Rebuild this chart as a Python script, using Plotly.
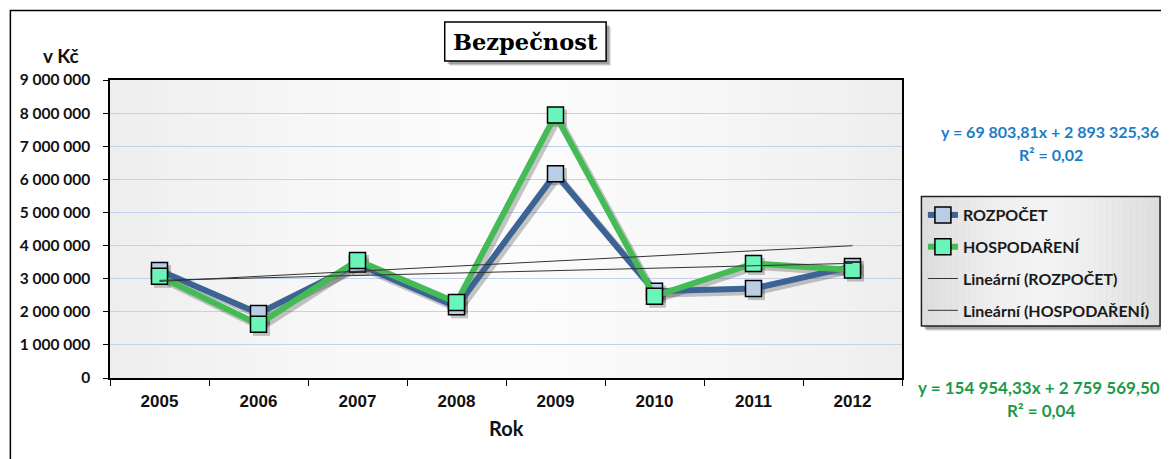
import numpy as np
import plotly.graph_objects as go

# ---------------- data ----------------
years = ["2005", "2006", "2007", "2008", "2009", "2010", "2011", "2012"]
rozpocet = [3250000, 1950000, 3440000, 2150000, 6170000, 2620000, 2700000, 3370000]
hospodareni = [3070000, 1620000, 3550000, 2280000, 7940000, 2470000, 3460000, 3260000]
series_names = ["ROZPOČET", "HOSPODAŘENÍ"]
trend_names = ["Lineární (ROZPOČET)", "Lineární (HOSPODAŘENÍ)"]
eq_rozpocet = ["y = 69 803,81x + 2 893 325,36", "R² = 0,02"]
eq_hospodareni = ["y = 154 954,33x + 2 759 569,50", "R² = 0,04"]
title_text = "Bezpečnost"
y_title = "v Kč"
x_title = "Rok"
y_max = 9000000
y_step = 1000000

# ---------------- geometry helpers ----------------
# the page body has an 8px margin, so the figure is drawn offset by 8px
OFF = 8
W_FIG, H_FIG = 1169 - OFF, 459 - OFF
L, R, T, B = 107, 902, 80, 378          # plot area in screen pixels
W, H = R - L, B - T


def px(x):
    return (x - L) / W


def py(y):
    return (B - y) / H


CAL = "Lato"
BLUE, BLUE_FILL = "#3b6495", "#b9cde5"
GREEN, GREEN_FILL = "#45bb55", "#6af5bb"

fig = go.Figure()

# base subplot: axes only
fig.add_trace(go.Scatter(x=years, y=rozpocet, mode="none", showlegend=False,
                         hoverinfo="skip", xaxis="x", yaxis="y"))

# shadows (x2/y2, shifted a few pixels)
for vals in (rozpocet, hospodareni):
    fig.add_trace(go.Scatter(
        x=years, y=vals, mode="lines+markers", showlegend=False, hoverinfo="skip",
        line=dict(color="rgba(0,0,0,0.22)", width=7),
        marker=dict(symbol="square", size=17, color="rgba(0,0,0,0.22)",
                    line=dict(width=0)),
        xaxis="x2", yaxis="y2"))

# main series (x3/y3)
fig.add_trace(go.Scatter(
    x=years, y=rozpocet, name=series_names[0], mode="lines+markers",
    legendgroup="a",
    line=dict(color=BLUE, width=6),
    marker=dict(symbol="square", size=16, color=BLUE_FILL,
                line=dict(color="black", width=1.5)),
    xaxis="x3", yaxis="y3"))
fig.add_trace(go.Scatter(
    x=years, y=hospodareni, name=series_names[1], mode="lines+markers",
    legendgroup="b",
    line=dict(color=GREEN, width=6),
    marker=dict(symbol="square", size=16, color=GREEN_FILL,
                line=dict(color="black", width=1.5)),
    xaxis="x3", yaxis="y3"))

# linear trend lines computed from the data
xi = np.arange(1, len(years) + 1)
for vals, nm, grp in ((rozpocet, trend_names[0], "c"), (hospodareni, trend_names[1], "d")):
    k, q = np.polyfit(xi, np.array(vals, dtype=float), 1)
    fig.add_trace(go.Scatter(
        x=years, y=k * xi + q, name=nm, mode="lines", legendgroup=grp,
        line=dict(color="#333333", width=1),
        xaxis="x3", yaxis="y3"))

dx = 3 / (W / len(years))
dy = 3 * y_max / H
cat_range = [-0.5, len(years) - 0.5]

fig.update_layout(
    width=W_FIG, height=H_FIG,
    margin=dict(l=L - OFF, r=1169 - R, t=T - OFF, b=459 - B),
    paper_bgcolor="white", plot_bgcolor="white",
    separators=", ",
    showlegend=True,
    legend=dict(x=px(923), y=py(198), xanchor="left", yanchor="top",
                bgcolor="rgba(0,0,0,0)", borderwidth=0,
                traceorder="grouped", tracegroupgap=8,
                font=dict(family=CAL, size=16, color="#1a1a1a", weight="bold"),
                itemwidth=30),
    xaxis=dict(type="category", categoryarray=years, range=cat_range,
               showline=True, linecolor="black", linewidth=1.5, mirror=True,
               ticks="outside", ticklen=6, tickcolor="black", tickwidth=1,
               tickson="boundaries", showgrid=False,
               ticklabelstandoff=7,
               tickfont=dict(family="Liberation Sans", size=17, color="#111", weight="bold")),
    yaxis=dict(range=[0, y_max], dtick=y_step, tickformat=",d",
               showline=True, linecolor="black", linewidth=1.5, mirror=True,
               ticks="outside", ticklen=5, tickcolor="black", tickwidth=1,
               showgrid=True, gridcolor="#c3d1ee", gridwidth=1, zeroline=False,
               ticklabelstandoff=10,
               tickfont=dict(family=CAL, size=15.5, color="#111", weight="bold")),
    xaxis2=dict(type="category", categoryarray=years, overlaying="x", visible=False,
                range=[cat_range[0] - dx, cat_range[1] - dx]),
    yaxis2=dict(overlaying="y", visible=False, range=[dy, y_max + dy]),
    xaxis3=dict(type="category", categoryarray=years, overlaying="x", visible=False,
                range=cat_range),
    yaxis3=dict(overlaying="y", visible=False, range=[0, y_max]),
)

shapes = []
# plot-area horizontal gradient (grey edges, white centre)
n = 60
for i in range(n):
    t = (i + 0.5) / n
    c = int(round(252 - 14 * abs(2 * t - 1) ** 1.3))
    shapes.append(dict(type="rect", xref="paper", yref="paper",
                       x0=i / n, x1=(i + 1) / n + 0.001, y0=0, y1=1,
                       fillcolor=f"rgb({c},{c},{c})", line=dict(width=0), layer="below"))

# outer chart border
shapes.append(dict(type="rect", xref="paper", yref="paper",
                   x0=px(7), x1=px(1190), y0=py(480), y1=py(10.5),
                   line=dict(color="black", width=1.5), fillcolor="rgba(0,0,0,0)",
                   layer="below"))

# legend box: shadow + gradient + border
lx0, lx1, ly0, ly1 = 921.5, 1161, 196.5, 326
for off, a in ((5, 0.10), (4, 0.14), (3, 0.18)):
    shapes.append(dict(type="rect", xref="paper", yref="paper",
                       x0=px(lx0 + off), x1=px(lx1 + off), y0=py(ly1 + off), y1=py(ly0 + off),
                       fillcolor=f"rgba(0,0,0,{a})", line=dict(width=0), layer="below"))
m = 40
for i in range(m):
    t = (i + 0.5) / m
    c = int(round(243 - 22 * abs(2 * t - 1) ** 1.5))
    shapes.append(dict(type="rect", xref="paper", yref="paper",
                       x0=px(lx0 + (lx1 - lx0) * i / m), x1=px(lx0 + (lx1 - lx0) * (i + 1) / m + 0.5),
                       y0=py(ly1), y1=py(ly0),
                       fillcolor=f"rgb({c},{c},{c})", line=dict(width=0), layer="below"))
shapes.append(dict(type="rect", xref="paper", yref="paper",
                   x0=px(lx0), x1=px(lx1), y0=py(ly1), y1=py(ly0),
                   line=dict(color="#222", width=1.5), fillcolor="rgba(0,0,0,0)", layer="below"))

# title box: shadow + box
tx0, tx1, ty0, ty1 = 443, 605, 22, 61
for off, a in ((5, 0.10), (4, 0.14), (3, 0.18)):
    shapes.append(dict(type="rect", xref="paper", yref="paper",
                       x0=px(tx0 + off), x1=px(tx1 + off), y0=py(ty1 + off), y1=py(ty0 + off),
                       fillcolor=f"rgba(0,0,0,{a})", line=dict(width=0), layer="below"))
shapes.append(dict(type="rect", xref="paper", yref="paper",
                   x0=px(tx0), x1=px(tx1), y0=py(ty1), y1=py(ty0),
                   line=dict(color="black", width=1.5), fillcolor="white", layer="below"))

fig.update_layout(shapes=shapes)

ann = []
ann.append(dict(text=title_text, x=px(524), y=py(42), xref="paper", yref="paper",
                showarrow=False, xanchor="center", yanchor="middle",
                font=dict(family="DejaVu Serif", size=22.5, color="black", weight="bold")))
ann.append(dict(text=y_title, x=px(58), y=py(56), xref="paper", yref="paper",
                showarrow=False, xanchor="center", yanchor="middle",
                font=dict(family=CAL, size=19, color="#111", weight="bold")))
ann.append(dict(text=x_title, x=px(505), y=py(428), xref="paper", yref="paper",
                showarrow=False, xanchor="center", yanchor="middle",
                font=dict(family=CAL, size=20, color="#111", weight="bold")))
for txt, (xc, yc) in zip(eq_rozpocet, ((1051, 131), (1052, 154))):
    ann.append(dict(text=txt, x=px(xc), y=py(yc), xref="paper", yref="paper",
                    showarrow=False, xanchor="center", yanchor="middle",
                    font=dict(family=CAL, size=16, color="#1b7cc6", weight="bold")))
for txt, (xc, yc) in zip(eq_hospodareni, ((1040, 387), (1042, 411))):
    ann.append(dict(text=txt, x=px(xc), y=py(yc), xref="paper", yref="paper",
                    showarrow=False, xanchor="center", yanchor="middle",
                    font=dict(family=CAL, size=17, color="#1b9a4b", weight="bold")))
fig.update_layout(annotations=ann)

fig.write_html("out.html")
